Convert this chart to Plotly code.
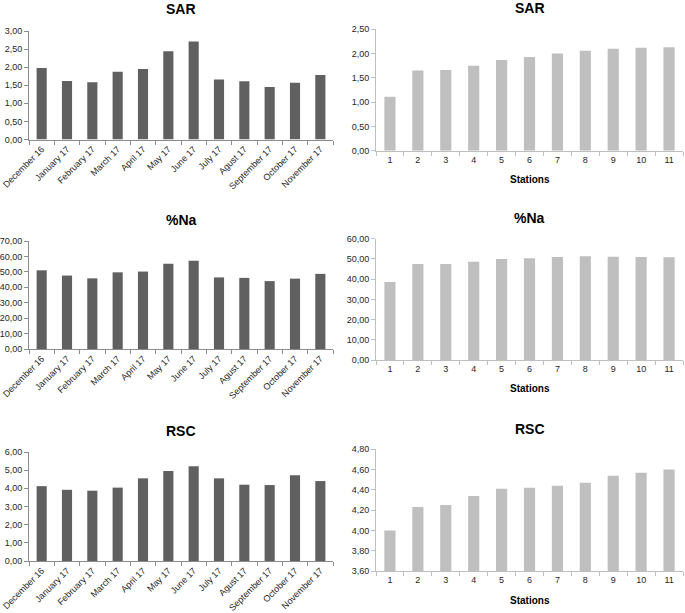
import plotly.graph_objects as go

months = ["December 16", "January 17", "February 17", "March 17", "April 17", "May 17",
          "June 17", "July 17", "Agust 17", "September 17", "October 17", "November 17"]
stations = [str(i) for i in range(1, 12)]

sar_month = [1.98, 1.62, 1.58, 1.87, 1.95, 2.44, 2.71, 1.66, 1.61, 1.45, 1.57, 1.78]
na_month = [51.0, 47.6, 45.8, 49.7, 50.2, 55.2, 57.2, 46.4, 46.1, 44.0, 45.6, 48.7]
rsc_month = [4.12, 3.92, 3.87, 4.04, 4.55, 4.95, 5.21, 4.55, 4.20, 4.18, 4.72, 4.40]

sar_station = [1.11, 1.65, 1.66, 1.75, 1.87, 1.93, 2.00, 2.06, 2.10, 2.12, 2.13]
na_station = [38.6, 47.5, 47.5, 48.6, 50.0, 50.3, 51.0, 51.3, 51.1, 50.9, 50.8]
rsc_station = [4.00, 4.23, 4.25, 4.34, 4.41, 4.42, 4.44, 4.47, 4.54, 4.57, 4.60]

titles = ["SAR", "SAR", "%Na", "%Na", "RSC", "RSC"]

W, H = 685, 613
FONT = "Liberation Sans"

def px(x):
    return x / W

def py(y):
    return 1 - y / H

panels = [
    dict(x=months, y=sar_month, color="#606060", xd=(29, 333), yd=(31, 139.5), yr=(0, 3), dt=0.5, ty=9, st=None),
    dict(x=stations, y=sar_station, color="#bfbfbf", xd=(376, 683), yd=(29.3, 150.7), yr=(0, 2.5), dt=0.5, ty=8, st=179),
    dict(x=months, y=na_month, color="#606060", xd=(29, 333), yd=(241, 349), yr=(0, 70), dt=10, ty=220, st=None),
    dict(x=stations, y=na_station, color="#bfbfbf", xd=(376, 683), yd=(238.7, 360), yr=(0, 60), dt=10, ty=218, st=388),
    dict(x=months, y=rsc_month, color="#606060", xd=(29, 333), yd=(452, 561), yr=(0, 6), dt=1, ty=431, st=None),
    dict(x=stations, y=rsc_station, color="#bfbfbf", xd=(376, 683), yd=(449.3, 571), yr=(3.6, 4.8), dt=0.2, ty=429, st=600),
]

fig = go.Figure()
annotations = []
for i, p in enumerate(panels):
    n = "" if i == 0 else str(i + 1)
    fig.add_trace(go.Bar(x=p["x"], y=p["y"], marker=dict(color=p["color"], line=dict(width=0)),
                         width=0.4, xaxis="x" + n, yaxis="y" + n, showlegend=False))
    axcol = "#8c8c8c" if p["st"] is None else "#bfbfbf"
    fig.update_layout(**{
        "xaxis" + n: dict(domain=[px(p["xd"][0]), px(p["xd"][1])], anchor="y" + n,
                          type="category", showline=True, linecolor=axcol, linewidth=1,
                          ticks="outside", tickson="boundaries", ticklen=4, tickcolor=axcol,
                          tickangle=-45 if p["st"] is None else 0,
                          tickfont=dict(family=FONT, size=9, color="#262626"),
                          showgrid=False, zeroline=False, fixedrange=True, automargin=False),
        "yaxis" + n: dict(domain=[py(p["yd"][1]), py(p["yd"][0])], anchor="x" + n,
                          range=list(p["yr"]), dtick=p["dt"], tick0=p["yr"][0], tickformat=".2f",
                          showline=True, linecolor=axcol, linewidth=1,
                          ticks="outside", ticklen=4, tickcolor=axcol,
                          tickfont=dict(family=FONT, size=9, color="#262626"),
                          showgrid=False, zeroline=False, fixedrange=True, automargin=False),
    })
    cx = (p["xd"][0] + p["xd"][1]) / 2
    annotations.append(dict(text="<b>" + titles[i] + "</b>", x=px(cx), y=py(p["ty"]),
                            xref="paper", yref="paper", showarrow=False, xanchor="center", yanchor="middle",
                            font=dict(family=FONT, size=14, color="#000000")))
    if p["st"] is not None:
        annotations.append(dict(text="<b>Stations</b>", x=px(cx), y=py(p["st"]),
                                xref="paper", yref="paper", showarrow=False, xanchor="center", yanchor="middle",
                                font=dict(family=FONT, size=10, color="#000000")))

fig.update_layout(width=W, height=H, margin=dict(l=0, r=0, t=0, b=0),
                  paper_bgcolor="white", plot_bgcolor="white", hovermode=False,
                  separators=",.", bargap=0.6, annotations=annotations)
fig.write_html("out.html", config={"displayModeBar": False, "staticPlot": True},
               post_script="document.body.style.margin='0';document.body.style.overflow='hidden';")
